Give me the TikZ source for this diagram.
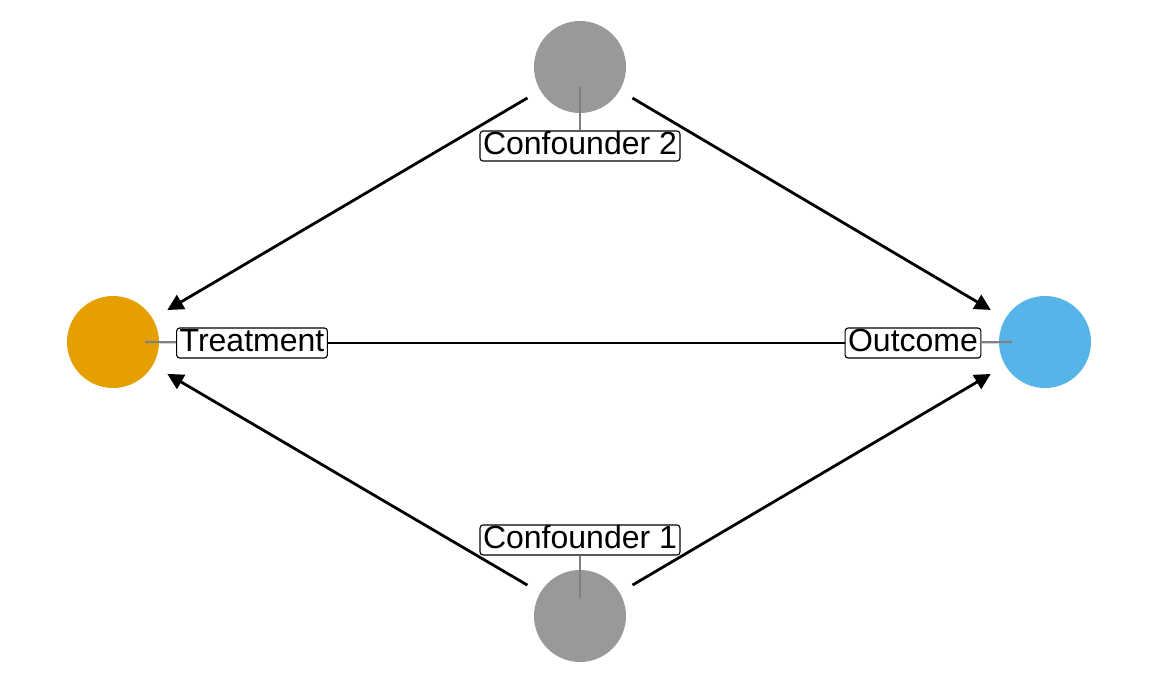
\documentclass[tikz,border=0pt]{standalone}
\usepackage{fontspec}
\setmainfont{Liberation Sans}
\usetikzlibrary{arrows.meta}
\definecolor{torange}{HTML}{E69F00}
\definecolor{oblue}{HTML}{56B4E9}
\definecolor{cgrey}{HTML}{999999}
\definecolor{segrey}{HTML}{808080}
\begin{document}
\begin{tikzpicture}[x=1pt,y=-1pt,
  dot/.style={circle,minimum size=92pt,inner sep=0pt,outer sep=0pt,draw=none},
  lab/.style={draw=black,line width=1.1pt,fill=white,rounded corners=3pt,inner xsep=3pt,inner ysep=1.5pt,font=\fontsize{32}{34}\selectfont,text height=22pt,text depth=5pt},
  seg/.style={draw=segrey,line width=2.2pt},
  arr/.style={draw=black,line width=2.8pt,-{Triangle[length=16pt,width=16pt]},shorten <=15pt,shorten >=17pt}]
\useasboundingbox (0,0) rectangle (1152,691);
\node[dot,fill=cgrey] (c2) at (580,67) {};
\node[dot,fill=torange] (tr) at (113,342) {};
\node[dot,fill=oblue] (out) at (1045,342) {};
\node[dot,fill=cgrey] (c1) at (580,616) {};
\draw[arr] (c2) -- (tr);
\draw[arr] (c2) -- (out);
\draw[arr] (c1) -- (tr);
\draw[arr] (c1) -- (out);
\coordinate (s2) at (580,87);
\coordinate (str) at (145,342);
\coordinate (sout) at (1012,342);
\coordinate (s1) at (580,598);
\node[lab] (l2) at (580,146) {Confounder 2};
\node[lab] (ltr) at (252,343) {Treatment};
\node[lab] (lout) at (913,343) {Outcome};
\node[lab] (l1) at (580,540) {Confounder 1};
\draw[line width=2.8pt] (ltr) -- (lout);
\draw[seg] (s2) -- (l2);
\draw[seg] (str) -- (ltr);
\draw[seg] (sout) -- (lout);
\draw[seg] (s1) -- (l1);
\end{tikzpicture}
\end{document}
